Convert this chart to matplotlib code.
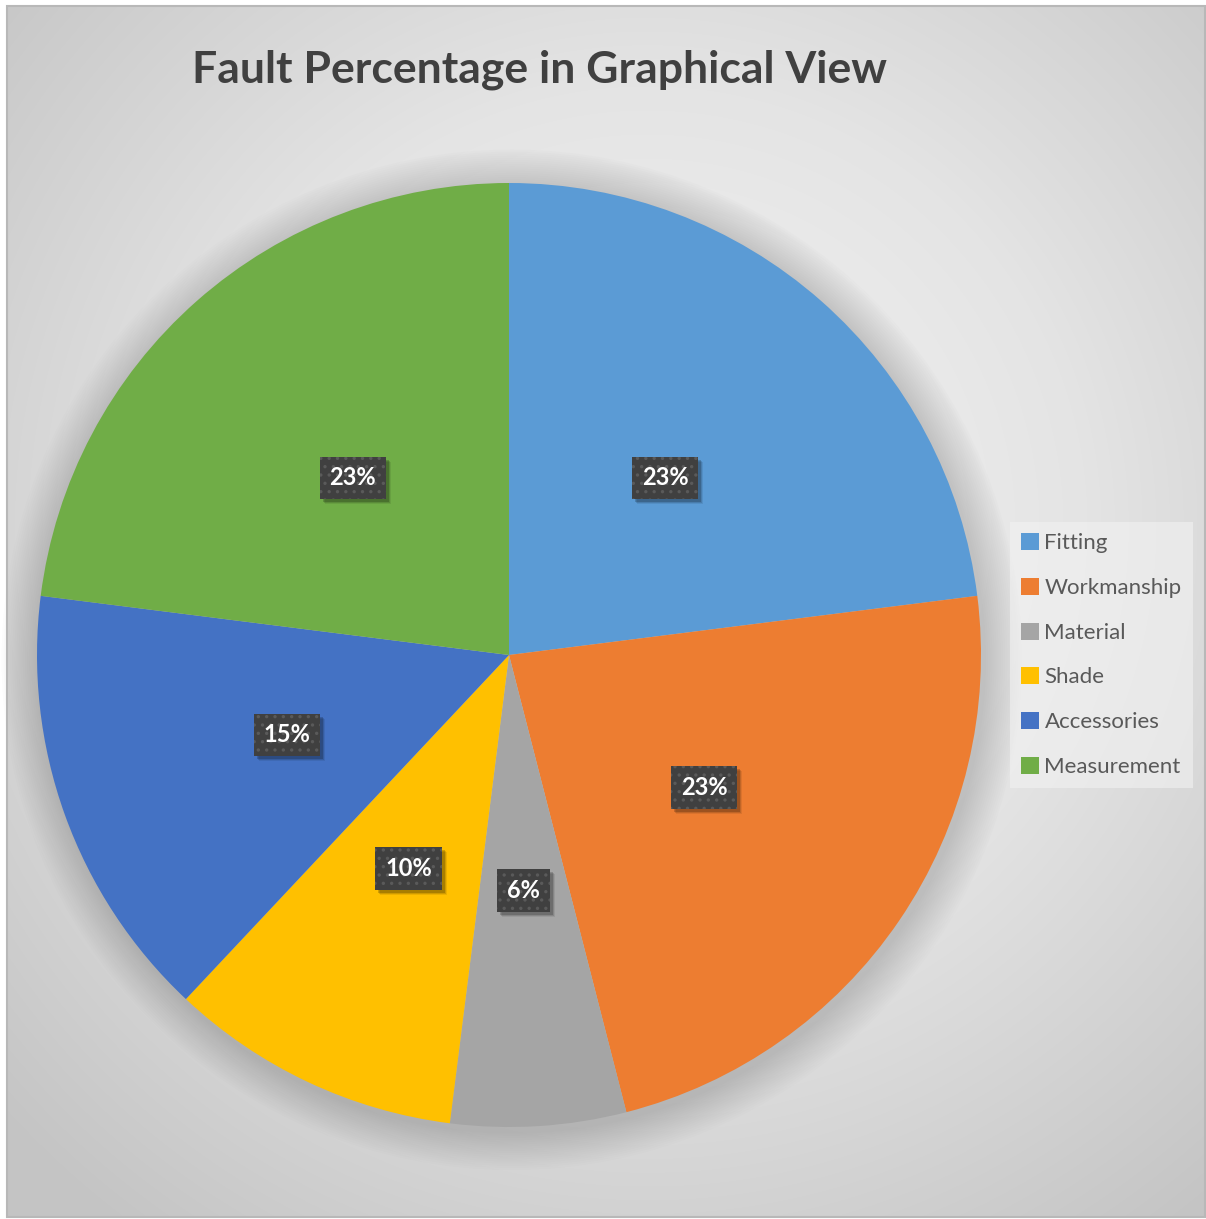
import numpy as np
import matplotlib.pyplot as plt
from matplotlib.patches import Rectangle, Circle
from matplotlib.colors import LinearSegmentedColormap
from matplotlib.transforms import IdentityTransform

# fault share by category (%)
categories = ["Fitting", "Workmanship", "Material", "Shade", "Accessories", "Measurement"]
percent = [23, 23, 6, 10, 15, 23]
colors = ["#5b9bd5", "#ed7d31", "#a5a5a5", "#ffc000", "#4472c4", "#70ad47"]

plt.rcParams["font.family"] = ["Lato", "DejaVu Sans"]
plt.rcParams["hatch.linewidth"] = 1.2

W, H = 1206, 1219
fig = plt.figure(figsize=(W / 100, H / 100), dpi=100, facecolor="white")

# radial gradient background inside the chart frame
bg = fig.add_axes([7 / W, 1 - 1217 / H, 1198 / W, 1211 / H])
yy, xx = np.mgrid[0:1211, 0:1198]
d = np.hypot(xx - 640, yy - 520) / 880
d = np.clip(d, 0, 1)
cmap = LinearSegmentedColormap.from_list("bg", ["#f6f6f6", "#e4e4e4", "#c4c4c4"])
bg.imshow(d, cmap=cmap, aspect="auto", vmin=0, vmax=1)
bg.set_axis_off()
fig.patches.append(Rectangle((7 / W, 1 - 1217 / H), 1198 / W, 1211 / H,
                             transform=fig.transFigure, fill=False,
                             edgecolor="#b8b8b8", linewidth=1.5, zorder=5))

# pie axes, square box 1.1*R on each side of the centre
cx, cy, R = 509, 655, 472
ax = fig.add_axes([(cx - R * 1.1) / W, (H - cy - R * 1.1) / H, 2.2 * R / W, 2.2 * R / H])
ax.set_axis_off()

# soft shadow around the pie
for i in range(18):
    ax.add_patch(Circle((0.006, -0.01), 1 + 0.0045 * (18 - i), color="#7a7a7a",
                        alpha=0.02, lw=0, zorder=0))

wedges, texts, autotexts = ax.pie(percent, colors=colors, startangle=90, counterclock=False,
                                  autopct="%.0f%%", pctdistance=0.5, radius=1,
                                  wedgeprops=dict(linewidth=0),
                                  textprops=dict(color="white", fontsize=17, fontweight="bold",
                                                 zorder=6))
ax.set_xlim(-1.1, 1.1)
ax.set_ylim(-1.1, 1.1)
ax.set_aspect("equal")

for t in autotexts:
    t.set_bbox(dict(boxstyle="square,pad=0.42", facecolor="#404040", edgecolor="#5a5a5a",
                    linewidth=0, hatch=".."))

# drop shadows under the label boxes, placed from the rendered box extents
fig.canvas.draw()
for t in autotexts:
    ext = t.get_bbox_patch().get_window_extent()
    for k, a in [(5, 0.08), (4, 0.12), (3, 0.18)]:
        ax.add_patch(Rectangle((ext.x0 + k, ext.y0 - k), ext.width, ext.height,
                               transform=IdentityTransform(), facecolor="black",
                               alpha=a, lw=0, zorder=4))

fig.text(540 / W, 1 - 70 / H, "Fault Percentage in Graphical View", ha="center", va="center",
         fontsize=32, fontweight="bold", color="#404040")

leg = fig.legend(wedges, categories, loc="center left",
                 bbox_to_anchor=(1010 / W, 1 - 655 / H), frameon=True,
                 fontsize=16, labelcolor="#595959", handlelength=0.8, handleheight=0.8,
                 handletextpad=0.25, labelspacing=1.1, borderpad=0.5, borderaxespad=0,
                 fancybox=False)
leg.get_frame().set_facecolor("#f2f2f2")
leg.get_frame().set_alpha(0.6)
leg.get_frame().set_edgecolor("none")

fig.savefig("out.png", dpi=100, facecolor="white")
